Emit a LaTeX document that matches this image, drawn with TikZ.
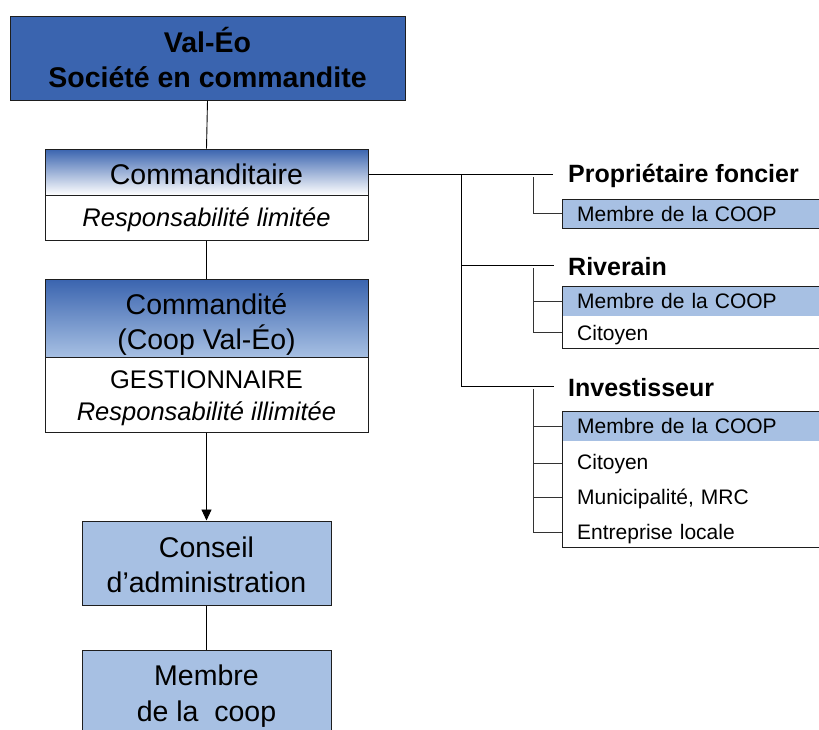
\documentclass[tikz,border=0pt]{standalone}
\usepackage{fontspec}
\setmainfont{Liberation Sans}
\usetikzlibrary{arrows.meta}
\definecolor{dkblue}{RGB}{58,100,175}
\definecolor{ltblue}{RGB}{167,192,227}
\definecolor{edge}{RGB}{30,30,30}
\begin{document}
\begin{tikzpicture}[x=1pt,y=-1pt,
  box/.style={draw=edge, line width=1pt, inner sep=0pt},
  txt/.style={inner sep=0pt, align=center},
  big/.style={font=\fontsize{28.5}{35}\selectfont},
  mid/.style={font=\fontsize{25.5}{32}\selectfont},
  lbl/.style={font=\fontsize{25}{30}\selectfont\bfseries, anchor=west, inner sep=0pt},
  row/.style={anchor=north west, inner xsep=15pt, inner ysep=0pt, text width=240pt,
              align=left, font=\fontsize{21}{25}\selectfont},
  rowt/.style={anchor=west, inner xsep=15pt, inner ysep=0pt, text width=240pt,
              align=left, font=\fontsize{21}{25}\selectfont},
  conn/.style={draw=black, line width=0.9pt},
  sub/.style={draw=black!80, line width=0.9pt},
  frame/.style={draw=edge, line width=1pt}]
\useasboundingbox (0,0) rectangle (819,729);
\clip (0,0) rectangle (819,729);

% left column boxes
\node[box, fill=dkblue, minimum width=395pt, minimum height=84pt] (top) at (207.5,58) {};
\node[box, top color=dkblue, bottom color=white, minimum width=323pt, minimum height=46pt] (comtop) at (206.5,172) {};
\node[box, fill=white, minimum width=323pt, minimum height=45pt] (combot) at (206.5,217.5) {};
\node[box, top color=dkblue, bottom color=ltblue, minimum width=323pt, minimum height=78pt] (cdtop) at (206.5,318) {};
\node[box, fill=white, minimum width=323pt, minimum height=75pt] (cdbot) at (206.5,394.5) {};
\node[box, fill=ltblue, minimum width=249pt, minimum height=84pt] (conseil) at (206.5,563) {};
\node[box, fill=ltblue, minimum width=249pt, minimum height=88pt] (membre) at (206.5,694) {};

% left column texts (negative yshift = downwards on the page)
\node[txt, font=\fontsize{28.5}{35}\selectfont\bfseries] (topt) at (top.center) {Val-Éo\\Société en commandite};
\node[txt, big] (comtopt) at ([yshift=-2pt]comtop.center) {Commanditaire};
\node[txt, mid] (combott) at ([yshift=-2pt]combot.center) {\itshape Responsabilité limitée};
\node[txt, big] (cdtopt) at ([yshift=-6.5pt]cdtop.center) {Commandité\\(Coop Val-Éo)};
\node[txt, mid] (cdbott) at ([yshift=-4pt]cdbot.center) {GESTIONNAIRE\\\textit{Responsabilité illimitée}};
\node[txt, big] (conseilt) at ([yshift=-2pt]conseil.center) {Conseil\\d’administration};
\node[txt, font=\fontsize{28.5}{36}\selectfont] (membret) at ([yshift=-2pt]membre.center) {Membre\\de la~ coop};

\draw[conn] (top.south) -- (comtop.north);
\draw[conn] (combot.south) -- (cdtop.north);
\draw[conn, -{Triangle[width=10pt,length=11pt]}] (cdbot.south) -- (conseil.north);
\draw[conn] (conseil.south) -- (membre.north);

% right labels
\node[lbl] (prop) at (568,176) {Propriétaire foncier};
\node[lbl] (riv) at (568,267) {Riverain};
\node[lbl] (inv) at (568,388) {Investisseur};

\coordinate (trunk) at (461,174);
\coordinate (rivj) at (461,265);
\coordinate (invj) at (461,386);
\draw[conn] (comtop.east |- trunk) -- ([xshift=-15pt]prop.west |- trunk);
\draw[conn] (trunk) -- (invj) -- ([xshift=-14pt]inv.west |- invj);
\draw[conn] (rivj) -- ([xshift=-14pt]riv.west |- rivj);

% Propriétaire foncier rows
\node[row, fill=ltblue, minimum height=29pt] (p1) at (562,199) {Membre de la COOP};
\draw[frame] (p1.north west) rectangle (p1.south east);
\coordinate (pb) at (533,177);
\draw[sub] (pb) |- (p1.west);

% Riverain rows
\node[row, fill=ltblue, minimum height=30pt] (r1) at (562,286) {Membre de la COOP};
\node[row, minimum height=32pt] (r2) at (r1.south west) {};
\draw[frame] (r1.north west) rectangle (r2.south east);
\node[rowt] (r2t) at ([yshift=-2pt]r2.west) {Citoyen};
\coordinate (rb) at (533,268);
\draw[sub] (rb) |- (r2.west);
\draw[sub] (rb |- r1.west) -- (r1.west);

% Investisseur rows
\node[row, fill=ltblue, minimum height=30pt] (i1) at (562,411) {Membre de la COOP};
\node[rowt] (i2) at (562,464.5) {Citoyen};
\node[rowt] (i3) at (562,498.5) {Municipalité, MRC};
\node[row, minimum height=30pt] (i4) at (562,517) {};
\node[rowt] (i4t) at ([yshift=-1.5pt]i4.west) {Entreprise locale};
\draw[frame] (i1.north west) rectangle (i4.south east);
\coordinate (ib) at (533,389);
\draw[sub] (ib) |- (i4.west);
\draw[sub] (ib |- i1.west) -- (i1.west);
\draw[sub] ([yshift=1.5pt]ib |- i2.west) -- ([yshift=1.5pt]i2.west);
\draw[sub] ([yshift=1.5pt]ib |- i3.west) -- ([yshift=1.5pt]i3.west);
\end{tikzpicture}
\end{document}
